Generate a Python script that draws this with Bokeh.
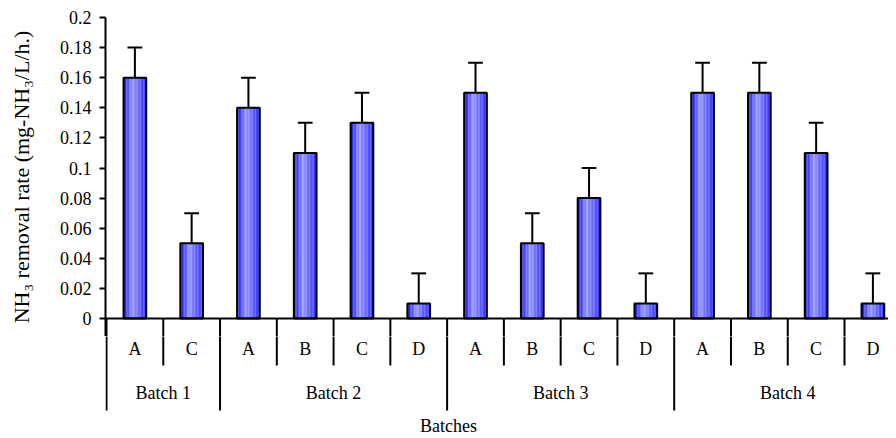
from bokeh.plotting import figure
from bokeh.layouts import column
from bokeh.models import Range1d, FixedTicker, Span, NumeralTickFormatter
from bokeh.embed import file_html
from bokeh.resources import INLINE
from bokeh.core.properties import value

# ---- data ----
batches = ["Batch 1", "Batch 2", "Batch 3", "Batch 4"]
batch_groups = [["A", "C"], ["A", "B", "C", "D"], ["A", "B", "C", "D"], ["A", "B", "C", "D"]]
rates = [0.16, 0.05, 0.14, 0.11, 0.13, 0.01, 0.15, 0.05, 0.08, 0.01, 0.15, 0.15, 0.11, 0.01]
errors = [0.02, 0.02, 0.02, 0.02, 0.02, 0.02, 0.02, 0.02, 0.02, 0.02, 0.02, 0.02, 0.02, 0.02]
y_ticks = [0, 0.02, 0.04, 0.06, 0.08, 0.1, 0.12, 0.14, 0.16, 0.18, 0.2]
y_title = "NH\u2083 removal rate (mg-NH\u2083/L/h.)"
x_title = "Batches"

FONT = "Liberation Serif"
W = 888
LEFT = 105
CELL = 56.77          # pixels per category cell
PPU = 1505.0          # pixels per y unit
SPLIT_PX = 18         # join of the two figures, px below the zero line
TOP_H = 318 + SPLIT_PX
BOT_H = 436 - TOP_H
Y_SPLIT = -SPLIT_PX / PPU
Y_BOTTOM = Y_SPLIT - BOT_H / PPU
SUB_Y = -47 / PPU     # depth of sub-category separators
BAT_Y = -92 / PPU     # depth of batch separators

xr = Range1d(-1 / CELL, (W - LEFT - 1) / CELL)

p = figure(width=W, height=TOP_H, output_backend="svg", toolbar_location=None,
           x_range=xr, y_range=Range1d(Y_SPLIT, 0.2),
           min_border_left=LEFT, min_border_top=17, min_border_bottom=0, min_border_right=0)
p.outline_line_color = None
p.xgrid.visible = False
p.ygrid.visible = False
p.xaxis.visible = False

ya = p.yaxis[0]
ya.ticker = FixedTicker(ticks=y_ticks)
ya.formatter = NumeralTickFormatter(format="0.[00]")
ya.axis_line_width = 2
ya.major_tick_line_width = 2
ya.major_tick_out = 6
ya.major_tick_in = 0
ya.minor_tick_line_color = None
ya.major_label_text_font = FONT
ya.major_label_text_font_size = "18px"
ya.major_label_text_font_style = "normal"
ya.major_label_text_color = "black"
ya.major_label_standoff = 8
ya.axis_label = y_title
ya.axis_label_text_font = FONT
ya.axis_label_text_font_size = "22px"
ya.axis_label_text_font_style = "normal"
ya.axis_label_text_color = "black"
ya.axis_label_standoff = 23

# positions
cats = []
for g in batch_groups:
    cats.extend(g)
n = len(cats)
xc = [i + 0.5 for i in range(n)]

# bars with horizontal gradient (vertical strips)
bw = 0.4
stops = [(0.0, (10, 10, 235)), (0.4, (150, 150, 255)), (1.0, (40, 40, 250))]
def col(t):
    for (t0, c0), (t1, c1) in zip(stops[:-1], stops[1:]):
        if t <= t1:
            f = (t - t0) / (t1 - t0)
            return "#%02x%02x%02x" % tuple(int(round(a + (b - a) * f)) for a, b in zip(c0, c1))
    return "#%02x%02x%02x" % stops[-1][1]

NS = 16
for k in range(NS):
    t = (k + 0.5) / NS
    off = -bw / 2 + bw * (k + 0.5) / NS
    p.vbar(x=[x + off for x in xc], top=rates, bottom=0, width=bw / NS * 1.05,
           fill_color=col(t), line_color=None)
p.vbar(x=xc, top=rates, bottom=0, width=bw, fill_color=None, line_color="black", line_width=2)

# error bars
tops = [r + e for r, e in zip(rates, errors)]
p.segment(x0=xc, y0=rates, x1=xc, y1=tops, line_color="black", line_width=2)
cw = 0.13
p.segment(x0=[x - cw for x in xc], y0=tops, x1=[x + cw for x in xc], y1=tops,
          line_color="black", line_width=2)

# category separators
sub_x, bat_x, bat_centers = [], [], []
start = 0
for g in batch_groups:
    bat_x.append(start)
    for j in range(1, len(g)):
        sub_x.append(start + j)
    bat_centers.append(start + len(g) / 2)
    start += len(g)
bat_x.append(start)

# lower figure: category axis
q = figure(width=W, height=BOT_H, output_backend="svg", toolbar_location=None,
           x_range=xr, y_range=Range1d(Y_BOTTOM, Y_SPLIT),
           min_border_left=LEFT, min_border_top=0, min_border_bottom=0, min_border_right=0)
q.outline_line_color = None
q.xgrid.visible = False
q.ygrid.visible = False
q.xaxis.visible = False
q.yaxis.visible = False

for fig in (p, q):
    fig.segment(x0=sub_x, y0=[0] * len(sub_x), x1=sub_x, y1=[SUB_Y] * len(sub_x),
                line_color="black", line_width=2)
    fig.segment(x0=bat_x, y0=[0] * len(bat_x), x1=bat_x, y1=[BAT_Y] * len(bat_x),
                line_color="black", line_width=2)

# baseline
p.add_layout(Span(location=0, dimension="width", line_color="black", line_width=2))

q.text(x=xc, y=[-30 / PPU] * n, text=cats, text_font=value(FONT), text_font_size="18px",
       text_align="center", text_baseline="middle", text_color="black")
q.text(x=bat_centers, y=[-74 / PPU] * len(batches), text=batches, text_font=value(FONT),
       text_font_size="18px", text_align="center", text_baseline="middle", text_color="black")
q.text(x=[(448 - LEFT - 1) / CELL], y=[-107 / PPU], text=[x_title], text_font=value(FONT),
       text_font_size="18px", text_align="center", text_baseline="middle", text_color="black")

layout = column(p, q, spacing=0)
open("out.html", "w").write(file_html(layout, INLINE))
